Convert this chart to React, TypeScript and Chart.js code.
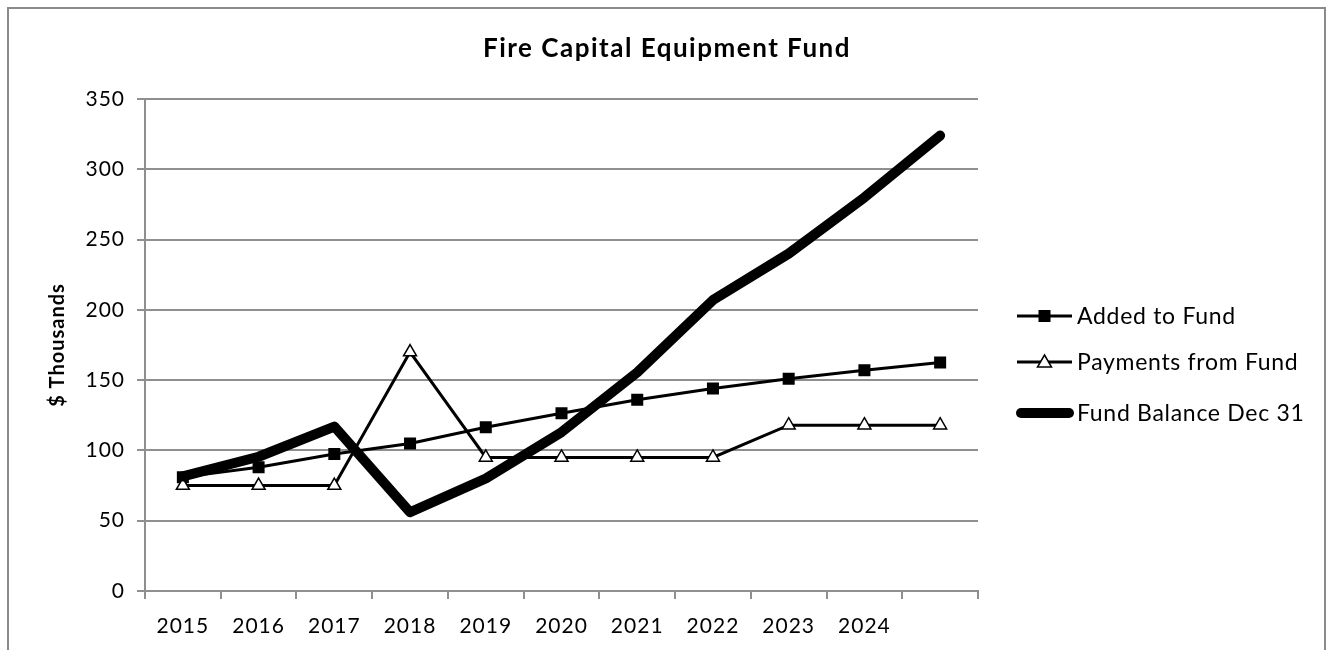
import React, { useEffect, useRef } from "react";
import { Chart, registerables } from "chart.js";

Chart.register(...registerables);

const categories = ["2015", "2016", "2017", "2018", "2019", "2020", "2021", "2022", "2023", "2024", ""];
const addedToFund = [81, 88, 97.5, 105, 116.5, 126.5, 136, 144, 151, 157, 162.5];
const paymentsFromFund = [75, 75, 75, 170, 95, 95, 95, 95, 118, 118, 118];
const fundBalance = [81.5, 95.5, 117, 56, 80, 113, 155.5, 207, 240, 280, 324];
const seriesNames = ["Added to Fund", "Payments from Fund", "Fund Balance Dec 31"];
const chartTitle = "Fire Capital Equipment Fund";
const yAxisTitle = "$ Thousands";

const FONT = "Lato";
const GRID = "#8f8f8f";

const decorPlugin = {
  id: "decor",
  beforeDraw(chart: any) {
    const ctx = chart.ctx;
    ctx.save();
    ctx.fillStyle = "#ffffff";
    ctx.fillRect(0, 0, chart.width, chart.height);
    ctx.strokeStyle = "#8a8a8a";
    ctx.lineWidth = 2;
    ctx.beginPath();
    ctx.moveTo(8, 650);
    ctx.lineTo(8, 8);
    ctx.lineTo(1325, 8);
    ctx.lineTo(1325, 650);
    ctx.stroke();
    ctx.restore();
    ctx.letterSpacing = "1px";
  },
  afterDraw(chart: any) {
    const ctx = chart.ctx;
    ctx.save();
    // title
    ctx.fillStyle = "#000";
    ctx.letterSpacing = "1.5px";
    ctx.font = `bold 26px ${FONT}`;
    ctx.textAlign = "center";
    ctx.textBaseline = "middle";
    ctx.fillText(chartTitle, 667, 49);

    // legend
    const lx0 = 1017;
    const lx1 = 1072;
    const items = [316, 362, 413];
    ctx.textAlign = "left";
    ctx.letterSpacing = "0.7px";
    ctx.font = `23px ${FONT}`;
    items.forEach((y, i) => {
      ctx.strokeStyle = "#000";
      ctx.lineCap = i === 2 ? "round" : "butt";
      ctx.lineWidth = i === 2 ? 10 : 3;
      ctx.beginPath();
      ctx.moveTo(i === 2 ? lx0 + 4 : lx0, y);
      ctx.lineTo(i === 2 ? lx1 - 3 : lx1, y);
      ctx.stroke();
      const cx = (lx0 + lx1) / 2;
      if (i === 0) {
        ctx.fillStyle = "#000";
        ctx.fillRect(cx - 6, y - 6, 12, 12);
      } else if (i === 1) {
        ctx.fillStyle = "#fff";
        ctx.lineWidth = 1.5;
        ctx.beginPath();
        ctx.moveTo(cx, y - 7);
        ctx.lineTo(cx + 7, y + 5);
        ctx.lineTo(cx - 7, y + 5);
        ctx.closePath();
        ctx.fill();
        ctx.stroke();
      }
      ctx.fillStyle = "#000";
      ctx.fillText(seriesNames[i], 1077, y + 1);
    });
    ctx.restore();
  },
};

export default function App() {
  const ref = useRef<HTMLCanvasElement | null>(null);
  useEffect(() => {
    if (!ref.current) return;
    const chart = new Chart(ref.current, {
      type: "line",
      data: {
        labels: categories,
        datasets: [
          {
            label: seriesNames[0],
            data: addedToFund,
            borderColor: "#000",
            backgroundColor: "#000",
            borderWidth: 3,
            pointStyle: "rect",
            pointRadius: 8.5,
            pointBorderWidth: 0,
            pointBackgroundColor: "#000",
            tension: 0,
            order: 2,
          },
          {
            label: seriesNames[1],
            data: paymentsFromFund,
            borderColor: "#000",
            backgroundColor: "#fff",
            borderWidth: 3,
            pointStyle: "triangle",
            pointRadius: 7.5,
            pointBorderWidth: 1.5,
            pointBorderColor: "#000",
            pointBackgroundColor: "#fff",
            tension: 0,
            order: 1,
          },
          {
            label: seriesNames[2],
            data: fundBalance,
            borderColor: "#000",
            backgroundColor: "#000",
            borderWidth: 10,
            borderJoinStyle: "round",
            borderCapStyle: "round",
            pointRadius: 0,
            tension: 0,
            order: 0,
          },
        ],
      },
      options: {
        responsive: false,
        animation: false,
        devicePixelRatio: 1,
        layout: { padding: { top: 99, left: 0, right: 1333 - 978, bottom: 0 } },
        plugins: {
          legend: { display: false },
          title: { display: false },
          tooltip: { enabled: false },
        },
        scales: {
          x: {
            type: "category",
            offset: true,
            afterFit(scale: any) {
              scale.height = 650 - 591;
            },
            grid: {
              offset: true,
              drawOnChartArea: false,
              drawTicks: true,
              tickLength: 8,
              color: GRID,
              lineWidth: 2,
            },
            border: { display: true, color: GRID, width: 2 },
            ticks: {
              color: "#000",
              font: { family: FONT, size: 21 },
              padding: 15,
              maxRotation: 0,
              autoSkip: false,
            },
          },
          y: {
            min: 0,
            max: 350,
            afterFit(scale: any) {
              scale.width = 145;
            },
            grid: {
              color: GRID,
              lineWidth: 2,
              drawTicks: true,
              tickLength: 8,
            },
            border: { display: true, color: GRID, width: 2 },
            ticks: {
              stepSize: 50,
              color: "#000",
              font: { family: FONT, size: 21 },
              padding: 12,
            },
            title: {
              display: true,
              text: yAxisTitle,
              color: "#000",
              font: { family: FONT, size: 20, weight: "bold" },
              padding: { top: 46, bottom: 0 },
            },
          },
        },
      },
      plugins: [decorPlugin],
    });
    return () => chart.destroy();
  }, []);
  return (
    <div style={{ position: "fixed", left: 0, top: 0, width: 1333, height: 650, overflow: "hidden", background: "#fff" }}>
      <canvas ref={ref} width={1333} height={650} style={{ width: 1333, height: 650, display: "block" }} />
    </div>
  );
}
